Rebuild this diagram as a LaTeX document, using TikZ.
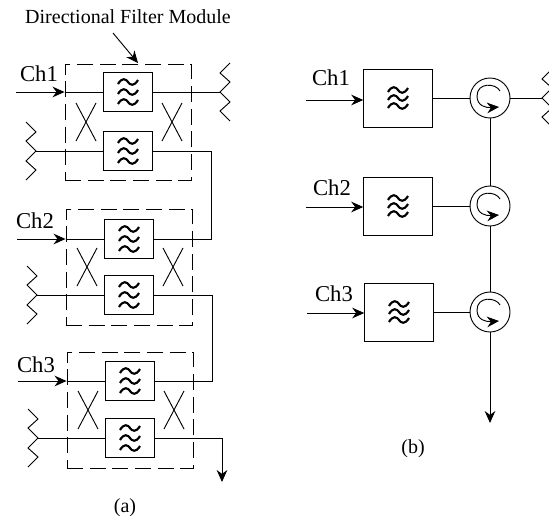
\documentclass[tikz,border=0pt]{standalone}
\usepackage{fontspec}
\setmainfont{Liberation Serif}
\usetikzlibrary{arrows.meta, positioning}

\tikzset{
  line/.style={line width=0.7pt},
  tip/.style={-{Stealth[length=9pt,width=8pt]}},
  module/.style={draw, line width=0.7pt, dash pattern=on 12pt off 5pt, minimum width=94.5pt, minimum height=87pt},
  filtera/.style={draw, line width=0.7pt, minimum width=36.75pt, minimum height=29pt, inner sep=0pt},
  filterb/.style={draw, line width=0.7pt, minimum width=51.5pt, minimum height=43.5pt, inner sep=0pt},
  port/.style={circle, draw, line width=0.7pt, minimum size=30pt, inner sep=0pt},
  chlabel/.style={font=\fontsize{17}{17}\selectfont, anchor=base},
  caption/.style={font=\fontsize{15}{15}\selectfont},
  antenna/.pic={
    \draw[line] (10,-29) -- (0,-19) -- (10,-10) -- (0,0) -- (10,10) -- (0,19) -- (10,29);
  },
  waves/.pic={
    \foreach \wy in {-10,0,10} {
      \draw[line width=1.6pt] (-10,\wy+2) .. controls (-6,\wy-5) and (-2,\wy-3) .. (0,\wy) .. controls (2,\wy+3) and (6,\wy+5) .. (10,\wy-2);
    }
  },
  wavesb/.pic={
    \foreach \wy in {-8,0,8} {
      \draw[line width=1.6pt] (-10,\wy+2) .. controls (-6,\wy-5) and (-2,\wy-3) .. (0,\wy) .. controls (2,\wy+3) and (6,\wy+5) .. (10,\wy-2);
    }
  },
  swirl/.pic={
    \draw[line, tip] (10,-7) .. controls (6,-15) and (-13,-16) .. (-13,-2) .. controls (-13,8) and (-4,10) .. (9,9);
  },
  crossing/.pic={
    \draw[line] (-10,-19) -- (10,19) (10,-19) -- (-10,19);
  },
}

\begin{document}
\begin{tikzpicture}[x=0.75pt, y=-0.75pt]
\useasboundingbox (0,0) rectangle (549,517);

% Define nodes
\path (128,122) node[module] (mod1) {}
(mod1) +(0,-30) node[filtera] (f1a) {}
(mod1) +(0,29) node[filtera] (f1b) {}
(mod1) +(1,145) node[module] (mod2) {}
(mod2) +(0,-28) node[filtera] (f2a) {}
(mod2) +(0,28) node[filtera] (f2b) {}
(mod2) +(1,143) node[module] (mod3) {}
(mod3) +(0,-29) node[filtera] (f3a) {}
(mod3) +(0,28) node[filtera] (f3b) {}
(f1a) +(-112,0) coordinate (in1)
(f1a) +(92,0) coordinate (out1)
(f1b) +(-92,0) coordinate (ant1)
(f1b) +(83,0) coordinate (turn1)
(f2a) +(-112,0) coordinate (in2)
(f2b) +(-92,0) coordinate (ant2)
(f2b) +(83,0) coordinate (turn2)
(f3a) +(-112,0) coordinate (in3)
(f3b) +(-92,0) coordinate (ant3)
(f3b) +(92,0) coordinate (turn3)
(turn3) +(0,44) coordinate (end3)
(138,63) coordinate (modtop)
(113,33) coordinate (dfmtail)
;

\path (398,98) node[filterb] (fb1) {}
(fb1) +(0,108) node[filterb] (fb2) {}
(fb2) +(1,106) node[filterb] (fb3) {}
(490,98) node[port] (c1) {}
(c1) +(0,108) node[port] (c2) {}
(c2) +(0,106) node[port] (c3) {}
(fb1) +(-92,2) coordinate (inb1)
(fb2) +(-92,1) coordinate (inb2)
(fb3) +(-92,1) coordinate (inb3)
(c1) +(52,0) coordinate (antb)
(c3) +(0,111) coordinate (endb)
;

% Module (a)
\foreach \n/\m in {1/mod1, 2/mod2, 3/mod3} {
  \draw[line, tip] (in\n) -- (in\n -| \m.west);
  \draw[line] (in\n -| \m.west) -- (f\n a);
  \draw[line] (ant\n) -- (f\n b);
  \path (f\n a) pic {waves};
  \path (f\n b) pic {waves};
  \path (ant\n) pic[xscale=-1] {antenna};
  \path (\m) +(-42,0) pic {crossing};
  \path (\m) +(44,0) pic {crossing};
}
\path (out1) pic {antenna};
\draw[line] (f1a) -- (out1);
\draw[line] (f1b) -- (turn1) |- (f2a);
\draw[line] (f2b) -- (turn2) |- (f3a);
\draw[line, tip] (f3b) -- (turn3) -- (end3);
\draw[line, tip] (dfmtail) -- (modtop);

% Module (b)
\foreach \n in {1,2,3} {
  \draw[line, tip] (inb\n) -- (inb\n -| fb\n.west);
  \draw[line] (fb\n) -- (c\n);
  \path (fb\n) pic {wavesb};
  \path (c\n) pic {swirl};
}
\draw[line] (c1) -- (antb);
\path (antb) pic {antenna};
\draw[line] (c1) -- (c2);
\draw[line] (c2) -- (c3);
\draw[line, tip] (c3) -- (endb);

% Labels
\path
(39,81) node[chlabel] (l1) {Ch1}
(35,228) node[chlabel] (l2) {Ch2}
(36,372) node[chlabel] (l3) {Ch3}
(128,17) node[font=\fontsize{15}{15}\selectfont] (dfm) {Directional Filter Module}
(125,508) node[caption] (capa) {(a)}
(331,85) node[chlabel] (lb1) {Ch1}
(332,195) node[chlabel] (lb2) {Ch2}
(334,301) node[chlabel] (lb3) {Ch3}
(413,449) node[caption] (capb) {(b)}
;

\end{tikzpicture}
\end{document}
